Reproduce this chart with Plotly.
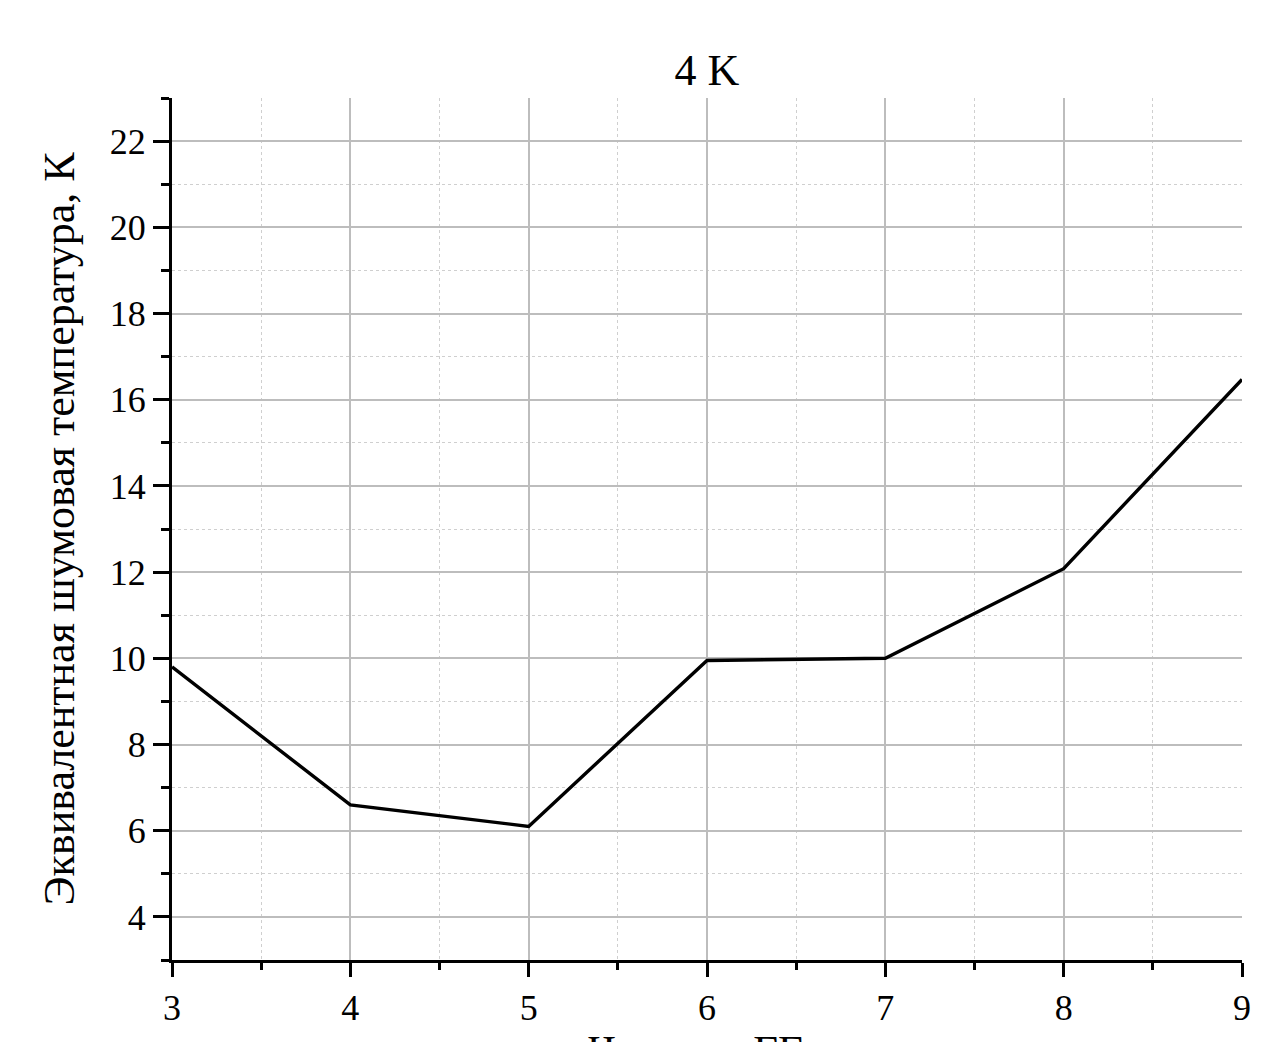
import plotly.graph_objects as go

# Noise temperature versus frequency at 4 K
freq_ghz = [3, 4, 5, 6, 7, 8, 9]
noise_temp_k = [9.8, 6.6, 6.1, 9.95, 10.0, 12.08, 16.47]

chart_title = "4 K"
x_title = "Частота, ГГц"
y_title = "Эквивалентная шумовая температура, К"

SERIF = "Liberation Serif, Times New Roman, serif"

fig = go.Figure()
fig.add_trace(go.Scatter(
    x=freq_ghz, y=noise_temp_k, mode="lines",
    line=dict(color="black", width=3.4),
    showlegend=False, cliponaxis=False,
))

fig.update_layout(
    width=1267, height=1042,
    margin=dict(l=172, r=25, t=98, b=82, autoexpand=False),
    paper_bgcolor="white", plot_bgcolor="white",
    font=dict(family=SERIF, color="black", size=36),
    title=dict(text=chart_title, x=(172 + 1242) / 2 / 1267, xanchor="center",
               y=1 - 70 / 1042, yanchor="middle",
               font=dict(family=SERIF, size=44, color="black")),
)

# x-axis title sits low, partly below the bottom edge of the page
fig.add_annotation(
    text=x_title, xref="paper", yref="paper", x=0.5, y=-0.075,
    xanchor="center", yanchor="top", showarrow=False,
    font=dict(family=SERIF, size=43, color="black"),
)

fig.update_xaxes(
    range=[3, 9], tick0=3, dtick=1,
    showline=True, linecolor="black", linewidth=3,
    ticks="outside", ticklen=14, tickwidth=3, tickcolor="black",
    tickfont=dict(family=SERIF, size=36, color="black"),
    showgrid=True, gridcolor="#bdbdbd", gridwidth=1.6,
    zeroline=False, automargin=False,
    minor=dict(dtick=0.5, tick0=3, ticks="outside", ticklen=7, tickwidth=3,
               tickcolor="black", showgrid=True, gridcolor="#cfcfcf",
               gridwidth=1.4, griddash="dot"),
)

fig.update_yaxes(
    range=[3, 23], tick0=0, dtick=2,
    showline=True, linecolor="black", linewidth=3,
    ticks="outside", ticklen=16, tickwidth=3, tickcolor="black",
    tickfont=dict(family=SERIF, size=36, color="black"),
    showgrid=True, gridcolor="#bdbdbd", gridwidth=1.6,
    zeroline=False, automargin=False,
    minor=dict(dtick=1, tick0=1, ticks="outside", ticklen=8, tickwidth=3,
               tickcolor="black", showgrid=True, gridcolor="#cfcfcf",
               gridwidth=1.4, griddash="dot"),
    title=dict(text=y_title, standoff=22,
               font=dict(family=SERIF, size=44, color="black")),
)

fig.write_html("out.html")
